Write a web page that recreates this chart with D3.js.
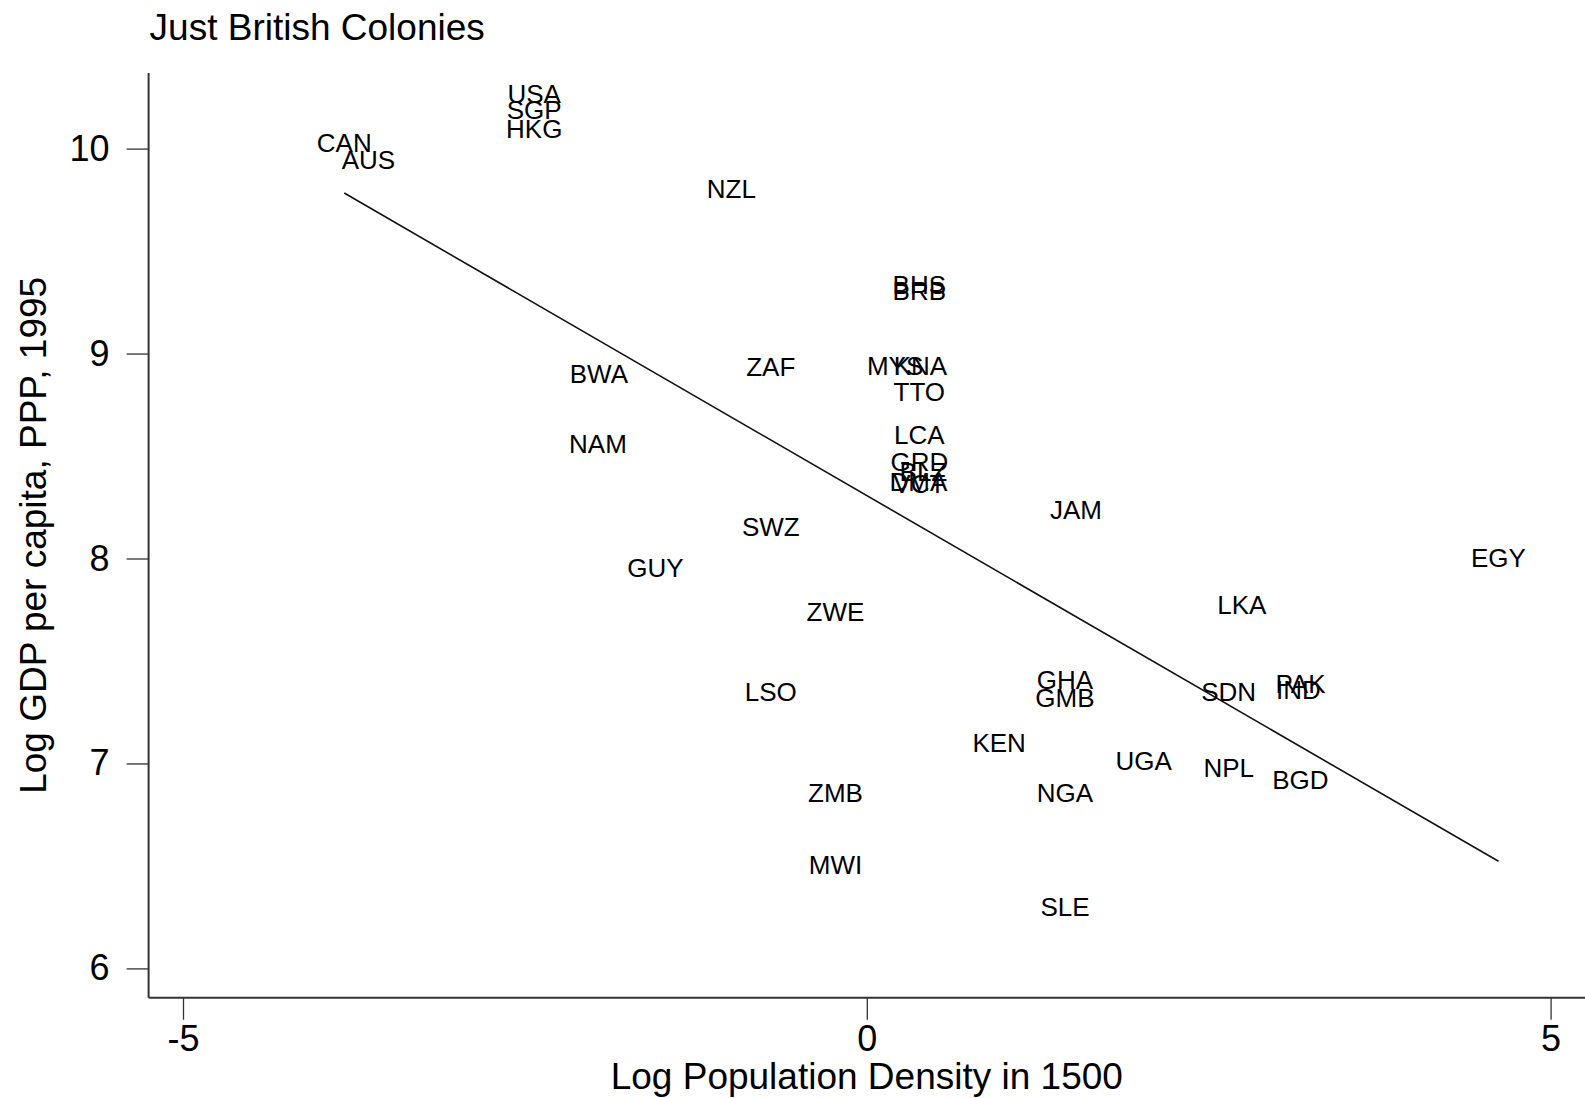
<!DOCTYPE html>
<html>
<head>
<meta charset="utf-8">
<script src="https://cdn.jsdelivr.net/npm/d3@7"></script>
<style>
  body { margin: 0; background: #fff; }
  svg { display: block; }
  text { font-family: "Liberation Sans", Arial, Helvetica, sans-serif; fill: #000; }
</style>
</head>
<body>
<svg id="chart" width="1585" height="1098"></svg>
<script>
// Country codes (British ex-colonies)
const countries = [
  "USA","SGP","HKG","CAN","AUS","NZL","BHS","BRB","MYS","KNA",
  "ZAF","BWA","TTO","NAM","LCA","GRD","BLZ","DMA","VCT","SWZ",
  "JAM","GUY","EGY","ZWE","LKA","GHA","GMB","LSO","SDN","PAK",
  "IND","KEN","UGA","NPL","BGD","ZMB","NGA","MWI","SLE"
];
// Log population density in 1500
const logDensity1500 = [
  -2.432,-2.432,-2.432,-3.821,-3.644,-0.990, 0.384, 0.384, 0.207, 0.392,
  -0.702,-1.959, 0.384,-1.966, 0.384, 0.384, 0.414, 0.377, 0.384,-0.702,
   1.530,-1.545, 4.619,-0.229, 2.742, 1.449, 1.449,-0.702, 2.646, 3.171,
   3.156, 0.968, 2.025, 2.646, 3.171,-0.229, 1.449,-0.229, 1.449
];
// Log GDP per capita, PPP, 1995
const logGdp1995 = [
  10.266,10.192,10.099,10.030, 9.946, 9.803, 9.334, 9.305, 8.940, 8.940,
   8.935, 8.900, 8.816, 8.560, 8.604, 8.471, 8.422, 8.377, 8.367, 8.155,
   8.239, 7.953, 8.002, 7.741, 7.776, 7.411, 7.322, 7.351, 7.351, 7.391,
   7.361, 7.100, 7.016, 6.981, 6.922, 6.858, 6.858, 6.508, 6.301
];
// Linear fit: logGdp = intercept + slope * logDensity
const fitSlope = -0.3863;
const fitIntercept = 8.307;

const xTicks = [-5, 0, 5];
const yTicks = [6, 7, 8, 9, 10];

const titleText = "Just British Colonies";
const xTitle = "Log Population Density in 1500";
const yTitle = "Log GDP per capita, PPP, 1995";

// Layout
const plotLeft = 148.6, plotRight = 1585, plotTop = 73, plotBottom = 997.7;
const x = d3.scaleLinear().domain([-5, 5]).range([183, 1550.6]);
const y = d3.scaleLinear().domain([6, 10]).range([968.4, 148.6]);

const svg = d3.select("#chart");
const axisColor = "#333";
const plainNumber = d => String(d); // ASCII hyphen for negatives

// Title
svg.append("text")
  .attr("x", 149.6).attr("y", 40.4)
  .attr("font-size", 37)
  .text(titleText);

// Y axis
const yAxis = svg.append("g").attr("transform", `translate(${plotLeft},0)`)
  .call(d3.axisLeft(y).tickValues(yTicks).tickSize(22).tickPadding(17)
    .tickFormat(plainNumber));
yAxis.select(".domain").remove();
yAxis.selectAll(".tick line").attr("stroke", axisColor).attr("stroke-width", 1.3);
yAxis.selectAll(".tick text").attr("font-size", 36).attr("fill", "#000")
  .style("font-family", "'Liberation Sans', Arial, sans-serif");
svg.append("line")
  .attr("x1", plotLeft).attr("x2", plotLeft)
  .attr("y1", plotTop).attr("y2", plotBottom)
  .attr("stroke", axisColor).attr("stroke-width", 2);

// X axis
const xAxis = svg.append("g").attr("transform", `translate(0,${plotBottom})`)
  .call(d3.axisBottom(x).tickValues(xTicks).tickSize(22).tickPadding(6)
    .tickFormat(plainNumber));
xAxis.select(".domain").remove();
xAxis.selectAll(".tick line").attr("stroke", axisColor).attr("stroke-width", 1.3);
xAxis.selectAll(".tick text").attr("font-size", 36).attr("fill", "#000")
  .style("font-family", "'Liberation Sans', Arial, sans-serif");
svg.append("line")
  .attr("x1", plotLeft).attr("x2", plotRight)
  .attr("y1", plotBottom).attr("y2", plotBottom)
  .attr("stroke", axisColor).attr("stroke-width", 2);

// Axis titles
svg.append("text")
  .attr("x", (plotLeft + plotRight) / 2).attr("y", 1089)
  .attr("text-anchor", "middle").attr("font-size", 37)
  .text(xTitle);
svg.append("text")
  .attr("transform", `translate(46,${(plotTop + plotBottom) / 2}) rotate(-90)`)
  .attr("text-anchor", "middle").attr("font-size", 37)
  .text(yTitle);

// Fitted line across the observed density range
const [xMin, xMax] = d3.extent(logDensity1500);
svg.append("path")
  .datum([xMin, xMax])
  .attr("d", d3.line().x(d => x(d)).y(d => y(fitIntercept + fitSlope * d)))
  .attr("fill", "none").attr("stroke", "#111").attr("stroke-width", 1.6);

// Country labels centred on each observation
svg.append("g").selectAll("text")
  .data(countries.map((c, i) => ({ c, dx: logDensity1500[i], gy: logGdp1995[i] })))
  .join("text")
  .attr("x", d => x(d.dx)).attr("y", d => y(d.gy))
  .attr("dy", "0.36em")
  .attr("text-anchor", "middle")
  .attr("font-size", 26)
  .text(d => d.c);
</script>
</body>
</html>
